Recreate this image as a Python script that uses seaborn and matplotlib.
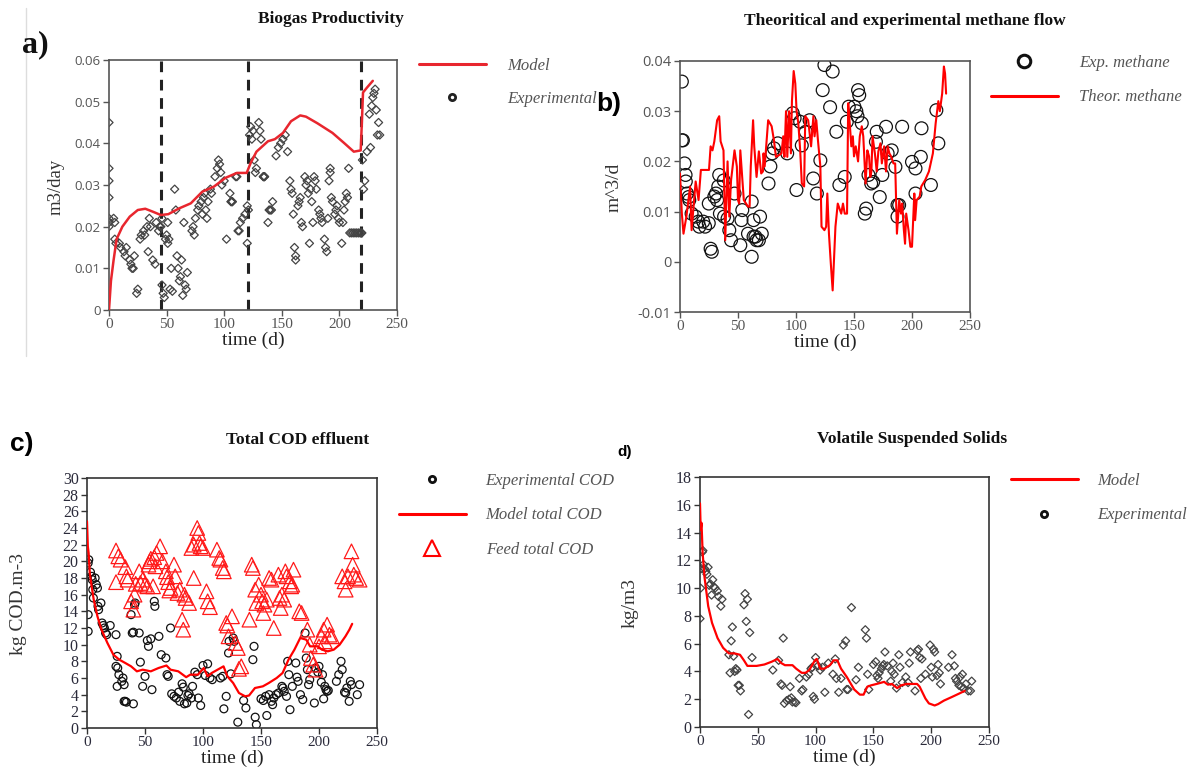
import numpy as np
import pandas as pd
import matplotlib
matplotlib.use("Agg")
import matplotlib.pyplot as plt
import seaborn as sns
from matplotlib.lines import Line2D

sns.set_theme(style="white")
plt.rcParams['font.family'] = ['Liberation Serif', 'DejaVu Serif']

# ---------------- DATA ----------------
# a) Biogas productivity
a_model_t = [0, 1.7, 4, 6.6, 11.6, 18, 25, 31.5, 38, 45, 51.5, 61, 71, 81, 91, 101, 111, 119.5,
             123, 128, 138, 144, 151, 158, 166, 171, 181, 194, 204, 212.5, 218.5, 219.5, 220.5, 224, 229]
a_model_v = [0, 0.007, 0.012, 0.017, 0.020, 0.0224, 0.024, 0.0243, 0.0236, 0.0228, 0.023, 0.0244, 0.0256,
             0.0284, 0.0296, 0.0317, 0.0329, 0.0329, 0.0353, 0.038, 0.0405, 0.041, 0.0425, 0.0453, 0.0467,
             0.0464, 0.0448, 0.0425, 0.0401, 0.038, 0.0383, 0.045, 0.0522, 0.0534, 0.055]
a_exp_t = [0, 0, 0, 0, 0, 0, 0, 4, 5, 5, 6, 9, 10, 13, 14, 15, 18, 19, 20, 21, 22, 24, 25,
           27, 28, 30, 31, 33, 34, 35, 36, 38, 40, 41, 43, 44, 45, 46, 46, 47, 48, 49, 50, 51,
           51, 52, 53, 54, 55, 57, 58, 59, 60, 61, 62, 63, 64, 65, 66, 67, 68,
           72, 73, 74, 75, 77, 78, 80, 81, 82, 83, 84, 85, 86, 88, 89,
           92, 94, 95, 96, 97, 98, 100, 102, 105, 106, 107, 106, 107, 110, 111, 112, 113, 114, 116, 118,
           120, 120, 121, 122, 123, 124, 125, 126, 127, 128, 130, 131, 132, 134, 135, 134, 135, 138, 139, 141, 140, 142,
           145, 147, 149, 151, 153, 155, 157, 158, 159, 160, 161, 162, 162,
           164, 165, 166, 167, 168, 170, 171, 172, 173, 174, 175, 176, 177,
           178, 179, 180, 182, 183, 184, 185, 187, 188, 189, 190, 191, 192, 192,
           193, 194, 196, 197, 198, 199, 200, 202, 203, 204, 205, 206, 207, 208,
           209, 210.5, 212, 213.5, 215, 216.5, 218, 219, 219.5, 220, 221, 222, 224,
           226, 227, 228, 229, 230, 231, 232, 233, 234, 235]
a_exp_v = [0.045, 0.034, 0.031, 0.027, 0.022, 0.021, 0.020, 0.022, 0.021, 0.017, 0.016, 0.016, 0.015,
           0.014, 0.013, 0.015, 0.012, 0.011, 0.010, 0.010, 0.013, 0.004, 0.005,
           0.017, 0.018, 0.019, 0.018, 0.020, 0.014, 0.022, 0.020, 0.012, 0.011, 0.021, 0.019, 0.020,
           0.020, 0.022, 0.006, 0.004, 0.003, 0.017, 0.018, 0.021,
           0.016, 0.017, 0.005, 0.010, 0.0045, 0.029, 0.024, 0.013, 0.010,
           0.007, 0.008, 0.012, 0.0035, 0.021, 0.006, 0.005, 0.009,
           0.019, 0.020, 0.018, 0.022, 0.024, 0.025, 0.026, 0.023, 0.027, 0.028, 0.024, 0.022, 0.026, 0.029, 0.028,
           0.032, 0.034, 0.036, 0.035, 0.033, 0.030, 0.031, 0.017, 0.028, 0.026, 0.026, 0.026, 0.026,
           0.032, 0.032, 0.019, 0.019, 0.021, 0.022, 0.023,
           0.016, 0.025, 0.024, 0.042, 0.044, 0.041, 0.043, 0.036, 0.033, 0.034,
           0.045, 0.043, 0.041, 0.032, 0.032, 0.032, 0.032, 0.021, 0.024, 0.024, 0.024, 0.026,
           0.037, 0.039, 0.040, 0.041, 0.042, 0.038, 0.031, 0.029, 0.028, 0.023, 0.015, 0.013, 0.012,
           0.025, 0.026, 0.027, 0.021, 0.020, 0.032, 0.030, 0.031, 0.028, 0.016, 0.029, 0.026, 0.021,
           0.032, 0.031, 0.029, 0.024, 0.023, 0.022, 0.021, 0.017, 0.015, 0.014, 0.022, 0.031, 0.033, 0.034,
           0.027, 0.026, 0.023, 0.024, 0.025, 0.022, 0.021, 0.016, 0.021, 0.024, 0.026, 0.028, 0.027, 0.034,
           0.0185, 0.0185, 0.0185, 0.0185, 0.0185, 0.0185, 0.0185, 0.0185, 0.0185, 0.036, 0.029, 0.031, 0.038,
           0.047, 0.039, 0.049, 0.051, 0.052, 0.053, 0.048, 0.042, 0.045, 0.042]
a_phase_days = [45, 121, 219]
a_yticks = [0, 0.01, 0.02, 0.03, 0.04, 0.05, 0.06]
a_yticklabels = ['0', '0.01', '0.02', '0.03', '0.04', '0.05', '0.06']

# b) Theoretical and experimental methane flow
b_theor_t = [0, 1.6, 3, 5.5, 8.7, 10, 13.5, 16, 18, 25, 26.4, 28, 29.6, 32, 33.8, 35, 37.5, 39, 41, 42.5,
             44, 47, 49, 50, 51, 52, 55, 58.6, 60, 61, 63, 64, 66, 68, 70, 71.5, 72, 73, 75, 76, 79, 81,
             82.7, 85, 87.5, 89, 90, 91.4, 92.5, 94, 95.6, 96.5, 98, 99.4, 100.5, 102, 103.6, 105, 107,
             108, 110.5, 113, 115, 116, 117.5, 119, 121, 122, 124.5, 126, 127, 128.4, 130, 131.6, 132.6,
             134, 136, 139, 140.5, 142, 144, 145, 146.5, 147.7, 149, 150, 151.5, 153.5, 155, 156.7, 158,
             160, 161.5, 163, 164, 165, 166, 168, 169.6, 171, 172.8, 174, 176, 177.6, 179, 180.5, 182,
             184, 185.5, 187, 189, 190.5, 191.5, 193, 194, 195, 197, 198.6, 200, 202, 202.7, 204, 206.6,
             208, 211.4, 214.6, 218, 220.4, 222.7, 224, 226, 227.5, 228.5, 229.4]
b_theor_v = [0.0176, 0.0096, 0.0056, 0.009, 0.015, 0.0063, 0.016, 0.0123, 0.0183, 0.0183, 0.023, 0.0222,
             0.024, 0.0282, 0.029, 0.024, 0.0222, 0.0043, 0.020, 0.009, 0.0162, 0.0222, 0.019, 0.0123,
             0.0116, 0.0222, 0.0123, 0.011, 0.011, 0.019, 0.0282, 0.023, 0.0169, 0.022, 0.0176, 0.018,
             0.0216, 0.019, 0.025, 0.0282, 0.027, 0.0242, 0.0209, 0.0212, 0.0216, 0.025, 0.0209, 0.030,
             0.0209, 0.030, 0.0216, 0.032, 0.038, 0.0355, 0.030, 0.0276, 0.0222, 0.0156, 0.015, 0.029,
             0.0282, 0.023, 0.029, 0.025, 0.0282, 0.024, 0.019, 0.007, 0.0063, 0.007, 0.0136, 0.0056,
             -0.0003, -0.0057, -0.0003, 0.007, 0.0116, 0.0096, 0.0116, 0.0096, 0.0096, 0.0316, 0.027,
             0.023, 0.025, 0.021, 0.023, 0.020, 0.025, 0.027, 0.025, 0.0156, 0.0222, 0.021, 0.0169,
             0.018, 0.025, 0.0216, 0.018, 0.022, 0.0236, 0.0196, 0.023, 0.018, 0.023, 0.0216, 0.021,
             0.0196, 0.0196, 0.0056, 0.0123, 0.0096, 0.0116, 0.0063, 0.0036, 0.0096, 0.0063, 0.003,
             0.003, 0.0136, 0.0083, 0.0123, 0.013, 0.015, 0.0163, 0.018, 0.0216, 0.0276, 0.032, 0.030,
             0.0335, 0.0389, 0.0375, 0.0335]
b_exp_t = [1.6, 1.6, 2.5, 3.9, 4.8, 5, 6.1, 7.4, 8, 10, 13.5, 15.8, 16.7, 20, 21.6, 24.8, 26.4, 27.4,
           24.8, 29.6, 31, 32, 33.8, 33, 34.4, 37.7, 38, 41, 42.5, 44, 47, 52, 53.7, 53, 58.6, 61.8,
           63.4, 61.8, 63.4, 65, 66, 69, 70.5, 68, 76.3, 77.9, 79.5, 81, 84.3, 92.4, 97.2, 98.8, 100.4,
           103.6, 105, 108.4, 111.7, 114.9, 118, 121, 123, 124.5, 131.6, 129.4, 134.8, 137.4, 142,
           143.8, 145.5, 150.3, 152, 153, 153.5, 154.5, 156.7, 159.3, 160.5, 162.5, 164.8, 166.5,
           168.9, 169.6, 172.2, 174.4, 177.6, 179, 182.5, 185.7, 187.5, 188.9, 187.5, 191.5, 200, 203,
           203, 207.6, 208.2, 216.3, 221, 222.7]
b_exp_v = [0.0359, 0.0242, 0.0242, 0.0196, 0.0173, 0.016, 0.0136, 0.0129, 0.0123, 0.0096, 0.009,
           0.008, 0.007, 0.008, 0.007, 0.0077, 0.0026, 0.002, 0.0116, 0.013, 0.0136, 0.0123, 0.0173,
           0.015, 0.0096, 0.0162, 0.009, 0.0086, 0.0063, 0.0043, 0.0136, 0.0033, 0.0103, 0.0083,
           0.0056, 0.012, 0.0083, 0.001, 0.005, 0.005, 0.0043, 0.009, 0.0056, 0.0043, 0.0156, 0.019,
           0.0216, 0.0226, 0.0236, 0.0216, 0.0296, 0.0286, 0.0143, 0.0279, 0.0232, 0.0259, 0.0282,
           0.0166, 0.0136, 0.0202, 0.0342, 0.0392, 0.0379, 0.0308, 0.0259, 0.0153, 0.0169, 0.0279,
           0.0309, 0.0309, 0.030, 0.029, 0.0342, 0.0332, 0.0276, 0.0096, 0.0106, 0.0173, 0.0156,
           0.0159, 0.0239, 0.0259, 0.0129, 0.0173, 0.0269, 0.0216, 0.0222, 0.0189, 0.0113, 0.0113,
           0.009, 0.0269, 0.0199, 0.0186, 0.0136, 0.0209, 0.0266, 0.0153, 0.0302, 0.0236]
b_yticks = [-0.01, 0, 0.01, 0.02, 0.03, 0.04]
b_yticklabels = ['-0.01', '0', '0.01', '0.02', '0.03', '0.04']

# c) Total COD effluent
c_model_t = [0, 0.7, 1.4, 2.4, 4, 5.8, 9, 12.5, 17.6, 22.7, 27.8, 33, 38, 43, 48, 55, 61.7, 68.5, 72,
             78.7, 85.5, 89, 95.7, 100.7, 104, 107.5, 112.6, 117.7, 121, 126, 131, 136.4, 139.7, 144.8,
             151.6, 156.7, 163.5, 168.6, 173.7, 178.8, 183.8, 189, 192.3, 195.7, 199, 202.5, 207.6,
             212.7, 217.8, 222.8, 226.2, 228.6]
c_model_v = [24.8, 21.8, 21.0, 18.6, 17.0, 15.4, 13.4, 11.8, 10.2, 8.8, 8.2, 7.8, 7.4, 6.8, 7.0, 6.8,
             7.2, 7.5, 7.0, 6.8, 6.1, 6.4, 6.4, 7.2, 6.2, 6.6, 7.0, 7.4, 6.2, 5.4, 4.2, 3.8, 3.9, 4.8,
             5.0, 5.4, 6.0, 6.6, 8.2, 9.4, 10.8, 10.6, 9.8, 9.8, 9.8, 9.4, 9.2, 9.4, 10.0, 11.0, 11.8, 12.5]
c_exp_t = [1, 1, 1, 1.5, 3, 4, 4.5, 5, 5.5, 7, 8, 9, 9.5, 10, 12, 13, 14, 15, 16, 17, 20, 25, 26,
           25, 26.5, 27.5, 26, 30, 31, 32, 32, 33, 34, 38, 39, 40, 41, 41.5, 40, 45, 46,
           48, 50, 52, 53, 55, 56, 58, 58.5, 62, 64, 68, 69, 70, 72, 73, 75, 77, 79, 80,
           82, 83, 84, 86, 87, 88, 90, 91, 93, 95, 96, 98, 100, 102, 104, 106, 108,
           115, 117, 118, 120, 122, 122.5, 124, 126, 127, 130, 135, 137, 143, 144, 145, 146,
           150, 152, 154, 155, 157, 159, 160, 161, 163, 165, 168, 169, 170, 172, 173, 174, 175,
           177, 180, 181, 182, 184, 186, 188, 189, 190, 191, 192, 196, 197, 199, 200,
           202, 203, 204, 205, 206, 207, 208, 215, 217, 219, 220, 222, 223, 224, 226, 227, 228, 233, 235]
c_exp_v = [11.6, 13.6, 19.8, 20.2, 18.7, 18.2, 17.8, 16.6, 15.6, 18.0, 17.2, 16.8, 14.6, 14.2, 15.0,
           12.6, 12.3, 12.0, 11.4, 11.2, 12.3, 11.2, 8.6, 7.4, 7.2, 6.4, 5.0, 5.6, 6.0, 5.2, 3.2, 3.2,
           3.1, 13.6, 11.4, 11.5, 14.8, 15.0, 2.9, 11.4, 7.9, 5.0, 6.2, 10.5, 9.8, 10.7, 4.6, 15.2,
           14.6, 11.0, 8.8, 8.4, 6.4, 6.2, 12.0, 4.1, 3.8, 3.6, 4.3, 3.2, 5.3, 4.9, 2.9, 3.0, 3.9,
           4.1, 3.6, 5.0, 6.7, 6.4, 3.6, 2.7, 7.5, 6.3, 7.7, 6.0, 5.8, 6.0, 6.2, 2.3, 3.8, 9.0,
           10.4, 6.5, 10.8, 10.4, 0.7, 3.3, 2.4, 8.2, 9.8, 1.3, 0.4, 3.5, 3.3, 3.8, 1.5, 4.0, 3.2,
           2.8, 3.6, 4.0, 4.2, 5.0, 4.8, 4.4, 3.8, 8.0, 6.4, 2.2, 5.0, 7.8, 6.1, 5.6, 4.0, 3.4,
           11.4, 8.4, 7.0, 5.2, 5.8, 3.0, 7.2, 6.7, 7.4, 5.5, 6.4, 3.5, 5.0, 4.6, 4.4, 4.5, 5.6,
           6.4, 8.0, 7.0, 4.3, 4.2, 4.8, 3.2, 5.6, 5.2, 4.0, 5.2]
c_feed_t = [25, 25, 27, 29, 33, 34, 35, 38, 40, 41, 42, 45, 46, 48, 50, 52, 53, 54, 55,
            57, 58, 59, 60, 63, 65, 68, 69, 70, 71, 72, 75, 76, 78, 80, 82, 83, 84, 85,
            88, 90, 92, 92, 95, 96, 97, 98, 100, 103, 104, 106, 112, 114, 115, 117, 118,
            120, 121, 122, 125, 128, 130, 131, 133, 140, 142, 143, 145, 146, 148, 150, 151, 152, 153, 155,
            157, 159, 161, 165, 166, 167, 168, 170, 171, 172, 175, 176, 177, 178,
            183, 185, 190, 192, 193, 195, 197, 200, 202, 204, 205, 207, 209, 211, 220, 222, 223, 225,
            228, 229, 230, 232, 235]
c_feed_v = [21.3, 17.5, 20.6, 20.2, 19.3, 18.2, 17.8, 15.2, 14.2, 16.0, 17.3, 18.8, 17.4, 17.8,
            17.2, 17.0, 19.6, 20.0, 20.3, 17.0, 20.5, 19.4, 21.0, 21.8, 20.0, 18.8, 18.1, 17.5, 16.5,
            16.8, 19.6, 18.2, 16.2, 16.6, 13.0, 11.8, 16.0, 15.6, 15.0, 21.6, 22.0, 18.0, 24.0, 23.4,
            22.2, 21.8, 21.6, 16.4, 15.2, 14.5, 21.4, 20.4, 20.2, 19.2, 18.8, 12.6, 12.3, 11.0, 13.4,
            10.2, 9.6, 7.1, 7.4, 13.0, 19.6, 19.2, 16.6, 15.0, 17.2, 16.0, 15.2, 13.8, 14.8, 15.4,
            18.0, 17.8, 12.0, 18.4, 15.6, 14.4, 16.0, 15.4, 18.8, 18.2, 17.6, 17.0, 17.2, 19.0,
            14.0, 13.8, 11.8, 10.0, 8.4, 7.6, 7.0, 9.8, 11.0, 11.8, 10.4, 12.4, 11.2, 11.0,
            18.2, 17.6, 16.6, 18.2, 21.2, 19.6, 18.4, 18.0, 17.8]

# d) Volatile suspended solids
d_model_t = [0, 0.6, 1.3, 2.3, 3.9, 7.1, 10.4, 15.2, 20, 25, 29.8, 34.6, 38, 41, 49, 55.7, 62, 67, 70.3,
             73.5, 80, 83.2, 88, 91.3, 94.5, 99.4, 101, 104, 107.5, 112.4, 115.6, 118.8, 122, 127, 133.4,
             138.3, 141.5, 144.7, 148, 152.8, 159.3, 162.5, 166, 170.6, 174, 178.7, 183.6, 187.8, 190,
             195, 198, 203, 206, 211, 217.6, 224, 229]
d_model_v = [16.1, 14.2, 14.7, 12.5, 10.8, 8.7, 7.5, 6.4, 5.7, 5.3, 5.3, 5.2, 4.8, 4.4, 4.4, 4.5, 4.7,
             4.9, 4.6, 4.45, 4.45, 4.2, 3.9, 3.9, 4.1, 4.8, 4.9, 4.2, 4.2, 4.45, 4.8, 4.8, 4.2, 3.6, 2.7,
             2.33, 2.33, 2.9, 3.0, 3.1, 3.25, 3.05, 3.1, 2.8, 3.0, 3.1, 3.1, 3.1, 2.9, 2.05, 1.7, 1.55,
             1.65, 1.9, 2.15, 2.4, 2.6]
d_exp_t = [0, 0.5, 1, 2, 2.5, 3, 4, 5, 6, 7, 8, 9, 10, 11, 12, 13, 15, 16, 18, 19,
           25, 26, 27, 28, 29, 30, 31, 32, 33, 34, 35, 38, 39, 40, 41, 42, 43, 45, 63,
           68, 70, 71, 72, 73, 75, 77, 78, 79, 80, 82, 83, 86, 88, 89, 92, 94, 96, 97, 98, 99,
           100, 102, 104, 106, 108, 111, 115, 117, 118, 120, 122, 124, 126, 127, 128, 131,
           135, 137, 143, 144, 145, 146, 150, 152, 153, 154, 155, 157, 158, 159, 160, 162,
           165, 166, 167, 168, 170, 172, 173, 175, 178, 180, 181, 182, 186, 188, 189, 190, 191, 192,
           195, 199, 200, 201, 202, 203, 205, 206, 207, 208, 215, 218, 220, 221, 222, 224, 225, 226,
           227, 228, 230, 232, 234, 235]
d_exp_v = [7.8, 10.0, 11.4, 12.6, 12.7, 11.7, 11.4, 11.2, 11.0, 11.5, 10.2, 10.3, 9.5, 10.6, 10.1,
           10.0, 9.8, 9.4, 8.7, 9.2, 5.2, 3.9, 6.2, 7.2, 5.1, 4.0, 4.2, 4.1, 3.0, 3.0, 2.6, 8.8, 9.6,
           7.6, 9.2, 0.9, 6.8, 5.0, 4.1, 4.8, 3.1, 3.0, 6.4, 1.7, 1.9, 2.0, 2.9, 2.1, 1.8, 1.8, 1.75,
           3.5, 2.6, 2.7, 3.6, 3.8, 4.2, 4.3, 2.2, 2.0, 5.0, 4.4, 4.1, 4.3, 2.5, 4.6, 3.8, 4.9, 3.5,
           2.5, 3.5, 5.9, 6.2, 2.7, 2.7, 8.6, 3.4, 4.3, 7.0, 6.4, 3.8, 2.7, 4.5, 4.7, 3.7, 3.5, 3.9,
           4.2, 4.4, 4.5, 5.4, 4.4, 3.3, 4.0, 4.6, 3.8, 2.8, 5.2, 4.3, 3.2, 3.6, 3.2, 4.6, 5.4, 2.6,
           5.5, 5.6, 5.0, 3.5, 4.9, 3.8, 5.9, 4.3, 3.6, 5.6, 5.4, 3.7, 4.5, 3.9, 3.1, 4.3, 5.2, 4.4,
           3.5, 3.3, 3.0, 3.6, 2.9, 3.8, 2.8, 3.1, 2.6, 2.6, 3.3]

xticks = [0, 50, 100, 150, 200, 250]

# ---------------- FIGURE ----------------
W, H = 1188, 769
fig = plt.figure(figsize=(W / 100, H / 100), dpi=100)


def box(x0, y0, x1, y1):
    return [x0 / W, 1 - y1 / H, (x1 - x0) / W, (y1 - y0) / H]


def fx(x):
    return x / W


def fy(y):
    return 1 - y / H


SERIF = ['Liberation Serif', 'DejaVu Serif']
SANS = ['Open Sans', 'DejaVu Sans']
RED = '#f01010'


def style_axes(ax, ylim, yticks, yticklabels, ytick_font, ytick_size, tick_col, spine_col):
    ax.set_xlim(0, 250)
    ax.set_ylim(*ylim)
    ax.set_xticks(xticks)
    ax.set_xticklabels([str(t) for t in xticks], family=SERIF, fontsize=11, color=tick_col)
    ax.set_yticks(yticks)
    ax.set_yticklabels(yticklabels, family=ytick_font, fontsize=ytick_size, color=tick_col)
    ax.tick_params(bottom=True, left=True, direction='out', length=4, width=1, colors=spine_col,
                   pad=2)
    for lab in ax.get_xticklabels() + ax.get_yticklabels():
        lab.set_color(tick_col)
    for s in ax.spines.values():
        s.set_visible(True)
        s.set_color(spine_col)
        s.set_linewidth(1.2)
    ax.set_xlabel('time (d)', family=SERIF, fontsize=14, color='#222', labelpad=0)
    ax.set_ylabel('')
    ax.grid(False)
    ax.set_facecolor('white')


# ---- panel a ----
axa = fig.add_axes(box(109, 60, 397, 310))
for d in a_phase_days:
    axa.axvline(d, color='#222', lw=2.2, ls=(0, (3.5, 2.5)), zorder=1)
sns.scatterplot(x=a_exp_t, y=a_exp_v, ax=axa, marker='D', s=17, facecolor='none',
                edgecolor='#444', linewidth=0.9, zorder=2)
sns.lineplot(x=a_model_t, y=a_model_v, ax=axa, color='#e8262e', lw=1.8, sort=False,
             estimator=None, zorder=3)
style_axes(axa, (0, 0.06), a_yticks, a_yticklabels, SANS, 9.5, '#555', '#555')
fig.text(fx(56), fy(187), 'm3/day', rotation=90, family=SERIF, fontsize=13.5, color='#333',
         ha='center', va='center')
fig.text(fx(331), fy(19), 'Biogas Productivity', family=SERIF, fontsize=12.5, weight='bold',
         ha='center', va='center', color='#111')
fig.text(fx(22), fy(45), 'a)', family=SERIF, fontsize=23, weight='bold', ha='left', va='center',
         color='#111')
fig.add_artist(Line2D([fx(26), fx(26)], [fy(8), fy(356)], color='#dddddd', lw=1))
axa.legend(handles=[Line2D([], [], color='#e8262e', lw=2.2),
                    Line2D([], [], ls='none', marker='o', ms=4.5, mfc='none', mec='#222', mew=2)],
           labels=['Model', 'Experimental'], loc='upper left',
           bbox_to_anchor=(fx(419), fy(58)), bbox_transform=fig.transFigure, frameon=False,
           prop={'family': SERIF, 'style': 'italic', 'size': 12}, labelcolor='#555',
           handlelength=4.0, handletextpad=1.3, labelspacing=1.0, borderpad=0, borderaxespad=0)

# ---- panel b ----
axb = fig.add_axes(box(680, 61, 970, 312))
sns.scatterplot(x=b_exp_t, y=b_exp_v, ax=axb, marker='o', s=85, facecolor='none',
                edgecolor='#111', linewidth=0.9, zorder=2)
sns.lineplot(x=b_theor_t, y=b_theor_v, ax=axb, color='#ff0000', lw=1.5, sort=False,
             estimator=None, zorder=3)
style_axes(axb, (-0.01, 0.04), b_yticks, b_yticklabels, SANS, 10.5, '#555', '#555')
fig.text(fx(614), fy(187), 'm^3/d', rotation=90, family=SERIF, fontsize=14, color='#333',
         ha='center', va='center')
fig.text(fx(905), fy(21), 'Theoritical and experimental methane flow', family=SERIF,
         fontsize=12.5, weight='bold', ha='center', va='center', color='#111')
fig.text(fx(596), fy(104), 'b)', family=['Liberation Sans', 'DejaVu Sans'], fontsize=19,
         weight='bold', ha='left', va='center', color='#000')
axb.legend(handles=[Line2D([], [], ls='none', marker='o', ms=9, mfc='none', mec='#111', mew=2.2),
                    Line2D([], [], color='#ff0000', lw=2.2)],
           labels=['Exp. methane', 'Theor. methane'], loc='upper left',
           bbox_to_anchor=(fx(991), fy(55)), bbox_transform=fig.transFigure, frameon=False,
           prop={'family': SERIF, 'style': 'italic', 'size': 12}, labelcolor='#555',
           handlelength=4.0, handletextpad=1.3, labelspacing=1.1, borderpad=0, borderaxespad=0)

# ---- panel c ----
axc = fig.add_axes(box(87, 478, 377, 728))
sns.scatterplot(x=c_exp_t, y=c_exp_v, ax=axc, marker='o', s=32, facecolor='none',
                edgecolor='#111', linewidth=0.9, zorder=2)
sns.scatterplot(x=c_feed_t, y=c_feed_v, ax=axc, marker='^', s=110, facecolor='none',
                edgecolor='#ff1a1a', linewidth=0.9, zorder=2)
sns.lineplot(x=c_model_t, y=c_model_v, ax=axc, color='#ff0000', lw=1.6, sort=False,
             estimator=None, zorder=3)
style_axes(axc, (0, 30), list(range(0, 31, 2)), [str(v) for v in range(0, 31, 2)], SERIF, 11.5,
           '#2a2a3a', '#333')
fig.text(fx(19), fy(604), 'kg COD.m-3', rotation=90, family=SERIF, fontsize=14, color='#333',
         ha='center', va='center')
fig.text(fx(298), fy(440), 'Total COD effluent', family=SERIF, fontsize=12.5, weight='bold',
         ha='center', va='center', color='#111')
fig.text(fx(10), fy(444), 'c)', family=['Liberation Sans', 'DejaVu Sans'], fontsize=19,
         weight='bold', ha='left', va='center', color='#000')
axc.legend(handles=[Line2D([], [], ls='none', marker='o', ms=4.5, mfc='none', mec='#111', mew=2),
                    Line2D([], [], color='#ff0000', lw=2.2),
                    Line2D([], [], ls='none', marker='^', ms=11, mfc='none', mec='#ff0000', mew=1.5)],
           labels=['Experimental COD', 'Model total COD', 'Feed total COD'], loc='upper left',
           bbox_to_anchor=(fx(399), fy(473)), bbox_transform=fig.transFigure, frameon=False,
           prop={'family': SERIF, 'style': 'italic', 'size': 12}, labelcolor='#555',
           handlelength=4.0, handletextpad=1.2, labelspacing=1.1, borderpad=0, borderaxespad=0)

# ---- panel d ----
axd = fig.add_axes(box(700, 477, 989, 727))
sns.scatterplot(x=d_exp_t, y=d_exp_v, ax=axd, marker='D', s=17, facecolor='none',
                edgecolor='#444', linewidth=0.9, zorder=2)
sns.lineplot(x=d_model_t, y=d_model_v, ax=axd, color='#ff0000', lw=1.6, sort=False,
             estimator=None, zorder=3)
style_axes(axd, (0, 18), list(range(0, 19, 2)), [str(v) for v in range(0, 19, 2)], SERIF, 11.5,
           '#2a2a3a', '#333')
fig.text(fx(630), fy(603), 'kg/m3', rotation=90, family=SERIF, fontsize=14, color='#333',
         ha='center', va='center')
fig.text(fx(912), fy(439), 'Volatile Suspended Solids', family=SERIF, fontsize=12.5,
         weight='bold', ha='center', va='center', color='#111')
fig.text(fx(617), fy(452), 'd)', family=['Liberation Sans', 'DejaVu Sans'], fontsize=11,
         weight='bold', ha='left', va='center', color='#000')
axd.legend(handles=[Line2D([], [], color='#ff0000', lw=2.2),
                    Line2D([], [], ls='none', marker='o', ms=4.5, mfc='none', mec='#111', mew=2)],
           labels=['Model', 'Experimental'], loc='upper left',
           bbox_to_anchor=(fx(1011), fy(473)), bbox_transform=fig.transFigure, frameon=False,
           prop={'family': SERIF, 'style': 'italic', 'size': 12}, labelcolor='#555',
           handlelength=4.0, handletextpad=1.2, labelspacing=1.1, borderpad=0, borderaxespad=0)

fig.savefig('out.png', dpi=100, facecolor='white')
